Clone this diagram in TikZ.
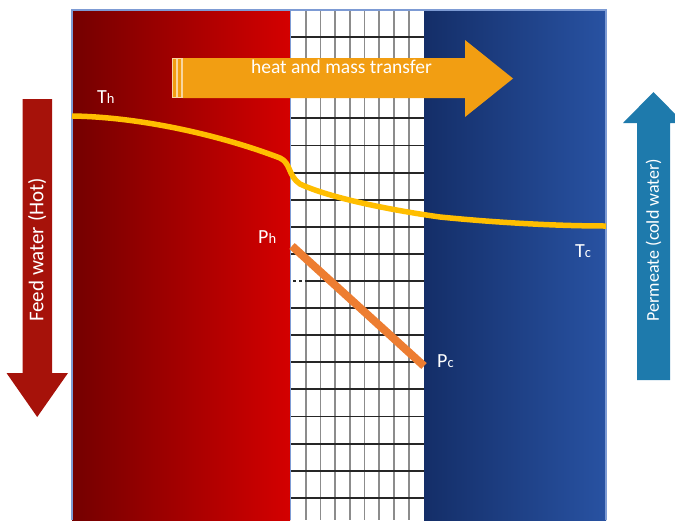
\documentclass[tikz,border=0pt]{standalone}
\usepackage{fontspec}
\setmainfont{Carlito}
\definecolor{redL}{RGB}{116,0,0}
\definecolor{redR}{RGB}{212,0,0}
\definecolor{blueL}{RGB}{20,46,104}
\definecolor{blueR}{RGB}{40,82,162}
\definecolor{arrOr}{RGB}{242,158,18}
\definecolor{arrOrLight}{RGB}{248,214,160}
\definecolor{curveY}{RGB}{255,190,0}
\definecolor{lineO}{RGB}{237,125,49}
\definecolor{feedR}{RGB}{166,18,10}
\definecolor{permB}{RGB}{30,122,172}
\definecolor{frameB}{RGB}{125,155,212}
\tikzset{
  vline/.style={draw=gray!90, line width=1.8pt},
  hline/.style={draw=black!85, line width=1.9pt},
  arrowtext/.style={text=white, inner sep=0pt, font=\fontsize{19.5}{20}\selectfont},
  lbl/.style={text=white, inner sep=0pt, anchor=base west, font=\fontsize{20}{20}\selectfont},
}
\begin{document}
\begin{tikzpicture}[x=1pt,y=-1pt]
\useasboundingbox (0,0) rectangle (675,520);
% panels
\shade[left color=redL, right color=redR] (72,10) rectangle (290,520);
\fill[white] (290,10) rectangle (424,520);
\shade[left color=blueL, right color=blueR] (424,10) rectangle (606,520);
% grid
\foreach \k in {1,...,8}
  \draw[vline] ({291+14.7*\k},10) -- ({291+14.7*\k},520);
\foreach \k in {1,...,9,11,12,...,18}
  \draw[hline] (290,{10+27.1*\k}) -- (424,{10+27.1*\k});
\draw[hline] (307,281) -- (424,281);
\draw[hline, dash pattern=on 3pt off 3pt] (293,281) -- (307,281);
\draw[frameB, line width=0.8pt] (290,10) -- (290,520);
% frame
\draw[frameB, line width=1.2pt] (72,520) -- (72,10) -- (606,10) -- (606,520);
% heat and mass transfer arrow
\fill[arrOr] (182.5,58) -- (465,58) -- (465,40) -- (513,78.5) -- (465,117) -- (465,98) -- (182.5,98) -- cycle;
\filldraw[fill=arrOr, draw=arrOrLight, line width=0.6pt] (172.5,58.3) rectangle (176,97.7);
\filldraw[fill=arrOr, draw=arrOrLight, line width=0.6pt] (177.5,58.3) rectangle (181,97.7);
\draw[arrOrLight, line width=0.6pt] (182.5,58.3) -- (182.5,97.7);
\node[arrowtext, anchor=base] (hmt) at (341.5,73) {heat and mass transfer};
% temperature curve
\coordinate (thot) at (72,116);
\coordinate (tcold) at (606,226);
\draw[curveY, line width=5.5pt] (thot) .. controls (140,117) and (220,135) .. (280,158)
  .. controls (291,163) and (288,176) .. (300,184)
  .. controls (330,198) and (390,210) .. (440,217)
  .. controls (500,223) and (560,226) .. (tcold);
% pressure line
\coordinate (phot) at (292,246);
\coordinate (pcold) at (424,366);
\draw[lineO, line width=8pt] (phot) -- (pcold);
% labels
\node[lbl] (th) at (97,103) {T{\fontsize{14.5}{15}\selectfont h}};
\node[lbl] (ph) at (258,243) {P{\fontsize{14.5}{15}\selectfont h}};
\node[lbl] (pc) at (437,367) {P{\fontsize{14.5}{15}\selectfont c}};
\node[lbl] (tc) at (575,257) {T{\fontsize{14.5}{15}\selectfont c}};
% feed water arrow
\fill[feedR] (22.5,99) -- (52,99) -- (52,373) -- (68,373) -- (37.2,417) -- (6.5,373) -- (22.5,373) -- cycle;
\node[arrowtext, rotate=90, font=\fontsize{21}{21}\selectfont] (feed) at (37.2,250) {Feed water (Hot)};
% permeate arrow
\fill[permB] (637,380) -- (670,380) -- (670,123) -- (684,123) -- (653.5,92) -- (623,123) -- (637,123) -- cycle;
\node[arrowtext, rotate=90, font=\fontsize{18}{18}\selectfont] (perm) at (653.5,240) {Permeate (cold water)};
\end{tikzpicture}
\end{document}
